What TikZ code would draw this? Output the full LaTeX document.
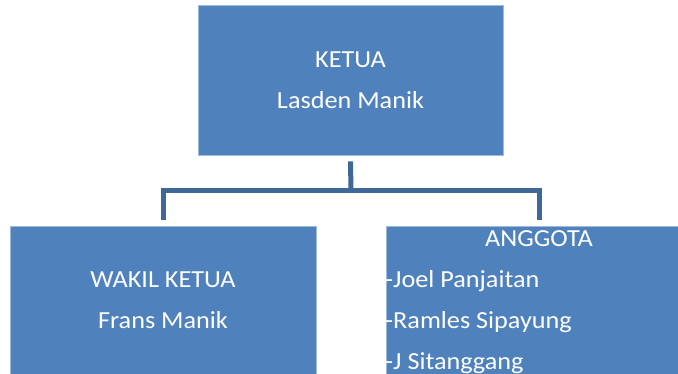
\documentclass[tikz,border=0pt]{standalone}
\usepackage{fontspec}
\setmainfont{Carlito}[FakeStretch=1.07]
\definecolor{boxblue}{RGB}{79,129,189}
\definecolor{boxedge}{RGB}{160,186,220}
\definecolor{connblue}{RGB}{62,104,152}
\begin{document}
\begin{tikzpicture}[x=1pt,y=-1pt,
  orgbox/.style={draw=boxedge,line width=0.8pt,fill=boxblue,rectangle,inner sep=0pt},
  txt/.style={text=white,font=\fontsize{24.5}{30}\selectfont,inner sep=0pt},
  conn/.style={draw=connblue,line width=5pt}]
\useasboundingbox (0,0) rectangle (678,374);
\clip (0,0) rectangle (678,374);
% boxes
\node[orgbox,minimum width=305pt,minimum height=150pt] (ketua) at (350.5,80) {};
\node[orgbox,minimum width=306pt,minimum height=160pt] (wakil) at (163,306) {};
\node[orgbox,minimum width=306pt,minimum height=160pt] (anggota) at (539,306) {};
% texts
\node[txt,anchor=base] (t1) at (350.5,68) {KETUA};
\node[txt,anchor=base] (t2) at (350.5,109) {Lasden Manik};
\node[txt,anchor=base] (t3) at (163,288) {WAKIL KETUA};
\node[txt,anchor=base] (t4) at (163,328.5) {Frans Manik};
\node[txt,anchor=base] (t5) at (539,247) {ANGGOTA};
\node[txt,anchor=base west] (t6) at (385,288) {-Joel Panjaitan};
\node[txt,anchor=base west] (t7) at (385,329) {-Ramles Sipayung};
\node[txt,anchor=base west] (t8) at (385,370) {-J Sitanggang};
% connectors
\coordinate (hub) at (351,191);
\draw[conn] ([yshift=-6pt]ketua.south) -- (hub);
\draw[conn] ([yshift=6pt]wakil.north) |- (hub) -| ([yshift=6pt]anggota.north);
\end{tikzpicture}
\end{document}
